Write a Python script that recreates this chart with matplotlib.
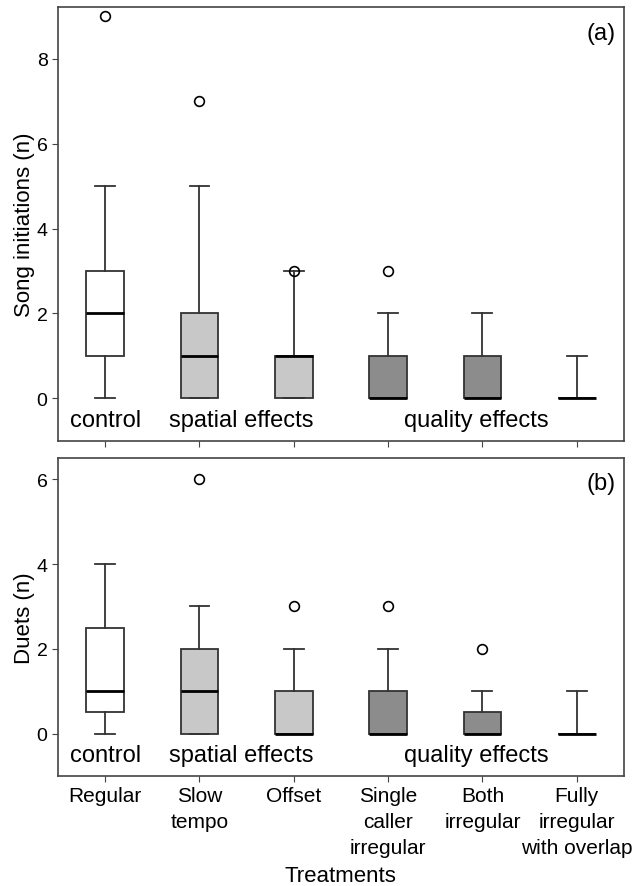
import matplotlib
matplotlib.use("Agg")
import matplotlib.pyplot as plt

plt.rcParams['font.family'] = ['Liberation Sans', 'DejaVu Sans']

treatments = ["Regular", "Slow\ntempo", "Offset", "Single\ncaller\nirregular",
              "Both\nirregular", "Fully\nirregular\nwith overlap"]
fills = ["white", "#c8c8c8", "#c8c8c8", "#8c8c8c", "#8c8c8c", "white"]

# song initiations (a)
song_lo = [0, 0, 0, 0, 0, 0]
song_q1 = [1, 0, 0, 0, 0, 0]
song_med = [2, 1, 1, 0, 0, 0]
song_q3 = [3, 2, 1, 1, 1, 0]
song_hi = [5, 5, 3, 2, 2, 1]
song_out = [[9], [7], [3], [3], [], []]

# duets (b)
duet_lo = [0, 0, 0, 0, 0, 0]
duet_q1 = [0.5, 0, 0, 0, 0, 0]
duet_med = [1, 1, 0, 0, 0, 0]
duet_q3 = [2.5, 2, 1, 1, 0.5, 0]
duet_hi = [4, 3, 2, 2, 1, 1]
duet_out = [[], [6], [3], [3], [2], []]


def make_stats(lo, q1, med, q3, hi, out):
    return [dict(whislo=a, q1=b, med=c, q3=d, whishi=e, fliers=f)
            for a, b, c, d, e, f in zip(lo, q1, med, q3, hi, out)]


fig = plt.figure(figsize=(6.34, 8.87), dpi=100)
ax1 = fig.add_axes([0.0915, 0.502, 0.8925, 0.489])
ax2 = fig.add_axes([0.0915, 0.124, 0.8925, 0.3585])

edge = "#333333"
panels = [
    (ax1, make_stats(song_lo, song_q1, song_med, song_q3, song_hi, song_out),
     "Song initiations (n)", "(a)", 0.966, (-1, 9.22), [0, 2, 4, 6, 8]),
    (ax2, make_stats(duet_lo, duet_q1, duet_med, duet_q3, duet_hi, duet_out),
     "Duets (n)", "(b)", 0.956, (-1, 6.5), [0, 2, 4, 6]),
]

for ax, stats, ylab, tag, tag_y, ylim, yt in panels:
    bp = ax.bxp(stats, positions=range(1, 7), widths=0.4, capwidths=0.21,
                patch_artist=True, showfliers=True,
                boxprops=dict(edgecolor=edge, linewidth=1.3),
                whiskerprops=dict(color=edge, linewidth=1.3),
                capprops=dict(color=edge, linewidth=1.3),
                medianprops=dict(color="black", linewidth=2),
                flierprops=dict(marker="o", markerfacecolor="none",
                                markeredgecolor="black", markersize=7,
                                markeredgewidth=1.2))
    for patch, fc in zip(bp["boxes"], fills):
        patch.set_facecolor(fc)
    ax.set_xlim(0.5, 6.5)
    ax.set_ylim(*ylim)
    ax.set_yticks(yt)
    ax.set_ylabel(ylab, fontsize=16, labelpad=1)
    ax.tick_params(axis="y", labelsize=14, length=4, color="#444444")
    ax.tick_params(axis="x", length=4, color="#444444")
    for s in ax.spines.values():
        s.set_color("#444444")
        s.set_linewidth(1.2)
    ax.text(0.985, tag_y, tag, transform=ax.transAxes, fontsize=17,
            ha="right", va="top")
    ax.text(1, -0.5, "control", fontsize=17, ha="center", va="center")
    ax.text(2.44, -0.5, "spatial effects", fontsize=17, ha="center", va="center")
    ax.text(4.94, -0.5, "quality effects", fontsize=17, ha="center", va="center")

ax1.set_xticks(range(1, 7))
ax1.set_xticklabels([])
ax2.set_xticks(range(1, 7))
ax2.set_xticklabels(treatments, fontsize=15, linespacing=1.45, va="top")
ax2.set_xlabel("Treatments", fontsize=16, labelpad=6)

fig.savefig("out.png", dpi=100)
